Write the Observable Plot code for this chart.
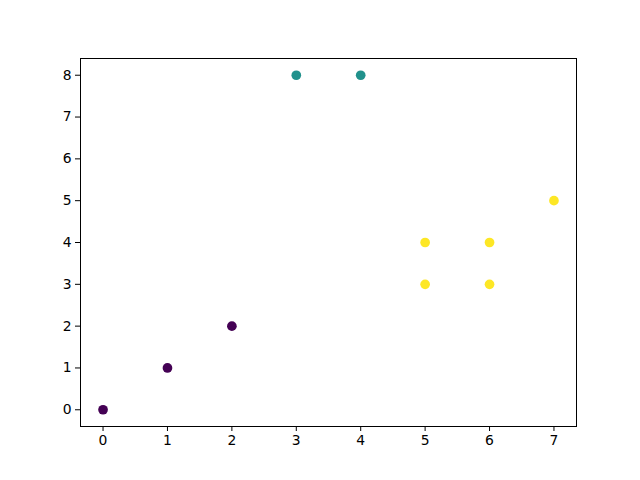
<!DOCTYPE html>
<html>
<head>
<meta charset="utf-8">
<script src="https://cdn.jsdelivr.net/npm/d3@7"></script>
<script src="https://cdn.jsdelivr.net/npm/@observablehq/plot@0.6"></script>
<style>
  html, body { margin: 0; padding: 0; background: #fff; }
  svg { display: block; }
</style>
</head>
<body>
<div id="chart"></div>
<script>
const xValues = [0, 1, 2, 3, 4, 5, 5, 6, 6, 7];
const yValues = [0, 1, 2, 8, 8, 4, 3, 4, 3, 5];
const clusters = [0, 0, 0, 1, 1, 2, 2, 2, 2, 2];
const xTicks = [0, 1, 2, 3, 4, 5, 6, 7];
const yTicks = [0, 1, 2, 3, 4, 5, 6, 7, 8];

const points = xValues.map((x, i) => ({x, y: yValues[i], c: clusters[i]}));

const chart = Plot.plot({
  width: 640,
  height: 480,
  marginLeft: 80,
  marginRight: 64,
  marginTop: 58,
  marginBottom: 54,
  style: {fontFamily: "DejaVu Sans", fontSize: "13.9px", color: "#000", background: "#fff"},
  x: {domain: [-0.35, 7.35]},
  y: {domain: [-0.4, 8.4]},
  color: {type: "ordinal", domain: [0, 1, 2], range: ["#440154", "#21918c", "#fde725"]},
  marks: [
    Plot.frame({stroke: "#000", strokeWidth: 1}),
    Plot.axisX({ticks: xTicks, tickSize: 5, tickPadding: 4, stroke: "#000", label: null, fill: "#000"}),
    Plot.axisY({ticks: yTicks, tickSize: 5, tickPadding: 4, stroke: "#000", label: null, fill: "#000"}),
    Plot.dot(points, {x: "x", y: "y", fill: "c", r: 4.85, stroke: null})
  ]
});
document.getElementById("chart").appendChild(chart);
</script>
</body>
</html>
